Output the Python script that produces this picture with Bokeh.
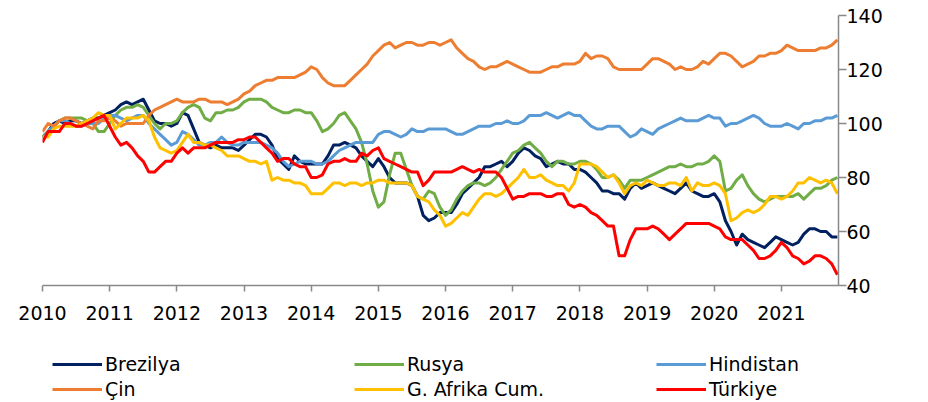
from bokeh.plotting import figure
from bokeh.layouts import column
from bokeh.models import Range1d, FixedTicker, Legend, LegendItem
from bokeh.embed import file_html
from bokeh.resources import INLINE

# Monthly index values, Jan 2010 - Nov 2021
brezilya = [95, 97, 100, 101, 100, 101, 101, 100, 101, 102, 102, 103,
            104, 105, 107, 108, 107, 108, 109, 105, 101, 100, 100, 99,
            100, 104, 103, 98, 93, 92, 91, 92, 91, 91, 91, 90,
            92, 94, 96, 96, 95, 92, 87, 85, 83, 88, 86, 85,
            85, 85, 85, 88, 92, 92, 93, 92, 91, 88, 86, 84,
            87, 84, 80, 78, 78, 78, 77, 73, 66, 64, 65, 67,
            67, 67, 70, 74, 76, 78, 80, 84, 84, 85, 86, 84,
            86, 89, 91, 90, 88, 87, 84, 85, 86, 85, 85, 83,
            83, 82, 80, 78, 75, 75, 74, 74, 72, 76, 78, 76,
            77, 78, 77, 76, 75, 74, 76, 78, 75, 74, 73, 73,
            74, 71, 64, 60, 55, 59, 57, 56, 55, 54, 56, 58,
            57, 56, 55, 56, 59, 61, 61, 60, 60, 58, 58]
rusya = [95, 97, 99, 101, 102, 102, 102, 102, 101, 100, 97, 97,
         100, 103, 105, 106, 106, 107, 106, 103, 100, 98, 100, 100,
         101, 104, 106, 107, 106, 102, 101, 104, 104, 105, 105, 106,
         108, 109, 109, 109, 108, 106, 105, 104, 104, 105, 105, 104,
         104, 101, 97, 98, 100, 103, 104, 101, 98, 93, 85, 75,
         69, 71, 81, 89, 89, 83, 77, 73, 72, 75, 74, 69,
         66, 68, 72, 75, 77, 78, 78, 77, 78, 80, 83, 86,
         89, 90, 92, 93, 91, 89, 86, 84, 86, 86, 85, 85,
         86, 86, 85, 83, 80, 80, 81, 79, 76, 79, 79, 79,
         80, 81, 82, 83, 84, 84, 85, 84, 84, 85, 85, 86,
         88, 86, 75, 76, 79, 81, 77, 74, 72, 71, 72, 73,
         73, 73, 73, 74, 72, 74, 76, 76, 77, 79, 80]
hindistan = [94, 97, 99, 101, 101, 100, 99, 99, 100, 100, 100, 102,
             103, 103, 102, 101, 102, 103, 103, 100, 98, 96, 94, 92,
             93, 97, 96, 94, 92, 92, 93, 93, 95, 93, 92, 92,
             93, 93, 93, 93, 92, 91, 89, 86, 84, 85, 86, 86,
             86, 85, 85, 86, 88, 90, 91, 92, 93, 93, 93, 93,
             96, 97, 97, 96, 95, 96, 98, 97, 97, 98, 98, 98,
             98, 97, 96, 96, 97, 98, 99, 99, 99, 100, 100, 101,
             100, 100, 101, 103, 103, 103, 104, 103, 102, 103, 104, 103,
             103, 101, 99, 98, 98, 99, 99, 99, 97, 95, 96, 98,
             97, 96, 98, 99, 100, 101, 102, 101, 101, 101, 102, 103,
             102, 102, 99, 100, 100, 101, 102, 103, 102, 100, 99, 99,
             99, 100, 99, 98, 100, 100, 101, 101, 102, 102, 103]
cin = [97, 100, 99, 101, 102, 102, 101, 100, 99, 98, 101, 101,
       102, 101, 99, 100, 100, 100, 100, 103, 105, 106, 107, 108,
       109, 108, 108, 108, 109, 109, 108, 108, 108, 107, 108, 109,
       111, 112, 114, 115, 116, 116, 117, 117, 117, 117, 118, 119,
       121, 120, 117, 115, 114, 114, 114, 116, 118, 120, 122, 125,
       127, 129, 130, 128, 129, 130, 130, 129, 129, 130, 130, 129,
       130, 131, 128, 126, 124, 123, 121, 120, 121, 121, 122, 123,
       122, 121, 120, 119, 119, 119, 120, 121, 121, 122, 122, 122,
       123, 126, 124, 125, 125, 124, 121, 120, 120, 120, 120, 120,
       122, 124, 124, 123, 122, 120, 121, 120, 120, 121, 123, 122,
       124, 126, 126, 125, 123, 121, 122, 123, 125, 125, 126, 126,
       127, 129, 128, 127, 127, 127, 127, 128, 128, 129, 131]
g_afrika = [95, 95, 98, 99, 99, 99, 99, 100, 101, 102, 104, 103,
            103, 98, 100, 102, 102, 102, 103, 101, 95, 91, 90, 89,
            90, 93, 96, 93, 93, 92, 92, 91, 90, 88, 88, 88,
            87, 86, 86, 85, 86, 79, 80, 79, 79, 78, 78, 77,
            74, 74, 74, 76, 78, 78, 77, 78, 78, 77, 78, 78,
            79, 79, 78, 78, 78, 78, 77, 73, 72, 71, 68, 66,
            62, 63, 65, 67, 66, 69, 72, 74, 74, 73, 74, 76,
            78, 80, 83, 80, 80, 81, 79, 78, 77, 77, 75, 78,
            85, 85, 85, 84, 82, 80, 81, 78, 74, 77, 78, 77,
            79, 78, 77, 77, 78, 78, 77, 80, 75, 78, 77, 77,
            78, 77, 74, 64, 65, 67, 68, 67, 68, 70, 73, 73,
            72, 73, 75, 78, 78, 80, 79, 78, 79, 78, 74]
turkiye = [93, 97, 97, 97, 100, 100, 99, 99, 100, 101, 102, 103,
           99, 95, 92, 93, 91, 88, 86, 82, 82, 84, 86, 86,
           89, 91, 89, 91, 91, 91, 92, 93, 93, 93, 93, 94,
           94, 95, 95, 93, 91, 89, 86, 87, 87, 85, 84, 84,
           80, 80, 81, 85, 86, 86, 87, 86, 86, 89, 88, 90,
           91, 87, 86, 85, 84, 83, 82, 82, 77, 79, 82, 82,
           82, 82, 83, 84, 83, 82, 83, 82, 82, 82, 80, 76,
           72, 73, 73, 74, 74, 74, 73, 73, 74, 74, 70, 69,
           70, 69, 67, 66, 64, 62, 62, 51, 51, 57, 61, 61,
           61, 62, 61, 59, 57, 59, 61, 63, 63, 63, 63, 63,
           62, 61, 58, 57, 57, 57, 55, 53, 50, 50, 51, 53,
           56, 54, 51, 50, 48, 49, 51, 51, 50, 48, 44]

years = [2010, 2011, 2012, 2013, 2014, 2015, 2016, 2017, 2018, 2019, 2020, 2021]
y_ticks = [40, 60, 80, 100, 120, 140]
start_year = 2010

series = [
    ("Brezilya", brezilya, "#002060"),
    ("Rusya", rusya, "#70AD47"),
    ("Hindistan", hindistan, "#5B9BD5"),
    ("Çin", cin, "#ED7D31"),
    ("G. Afrika Cum.", g_afrika, "#FFC000"),
    ("Türkiye", turkiye, "#FF0000"),
]

n = len(brezilya)
xs = [start_year + i / 12 for i in range(n)]

FONT = "DejaVu Sans"
W = 912
p = figure(width=W, height=330,
           x_range=Range1d(start_year, start_year + (n - 1 + 0.2) / 12),
           y_range=Range1d(40, 140),
           y_axis_location="right",
           output_backend="svg", toolbar_location=None,
           min_border_left=42, min_border_right=74,
           min_border_top=15, min_border_bottom=45)
p.outline_line_color = None
p.xgrid.visible = False
p.ygrid.visible = False

for name, vals, col in series:
    p.line(xs, vals, line_color=col, line_width=3, line_join="round")

ax = p.xaxis[0]
ax.ticker = FixedTicker(ticks=years)
ax.major_label_overrides = {y: str(y) for y in years}
ax.axis_line_color = "#898989"
ax.axis_line_width = 1.5
ax.major_tick_line_color = "#898989"
ax.major_tick_line_width = 1.5
ax.major_tick_out = 6
ax.major_tick_in = 0
ax.minor_tick_line_color = None
ax.major_label_standoff = 14
ax.major_label_text_font = FONT
ax.major_label_text_font_size = "19px"
ax.major_label_text_color = "black"

ay = p.yaxis[0]
ay.ticker = FixedTicker(ticks=y_ticks)
ay.axis_line_color = "#898989"
ay.axis_line_width = 1.5
ay.major_tick_line_color = "#898989"
ay.major_tick_line_width = 1.5
ay.major_tick_out = 8
ay.major_tick_in = 0
ay.minor_tick_line_color = None
ay.major_label_standoff = 0
ay.major_label_text_font = FONT
ay.major_label_text_font_size = "19px"
ay.major_label_text_color = "black"

# Legend panel underneath
H2 = 70
p2 = figure(width=W, height=H2, x_range=Range1d(0, 1), y_range=Range1d(0, 1),
            output_backend="svg", toolbar_location=None,
            min_border=0, min_border_left=0, min_border_right=0,
            min_border_top=0, min_border_bottom=0)
p2.axis.visible = False
p2.grid.visible = False
p2.outline_line_color = None

leg_r = {}
for name, vals, col in series:
    leg_r[name] = p2.line([-5, -4], [-5, -4], line_color=col, line_width=3)


def make_legend(names, loc):
    items = [LegendItem(label=nm, renderers=[leg_r[nm]]) for nm in names]
    return Legend(items=items, location=loc, orientation="horizontal",
                  glyph_width=50, glyph_height=12, label_height=12,
                  label_width=249, label_standoff=3, spacing=0,
                  padding=0, margin=0, border_line_color=None,
                  background_fill_alpha=0,
                  label_text_font=FONT, label_text_font_size="19px",
                  label_text_color="black")


p2.add_layout(make_legend(["Brezilya", "Rusya", "Hindistan"], (10, 25)))
p2.add_layout(make_legend(["Çin", "G. Afrika Cum.", "Türkiye"], (10, 0)))

layout = column(p, p2, spacing=0)
open("out.html", "w").write(file_html(layout, INLINE))
